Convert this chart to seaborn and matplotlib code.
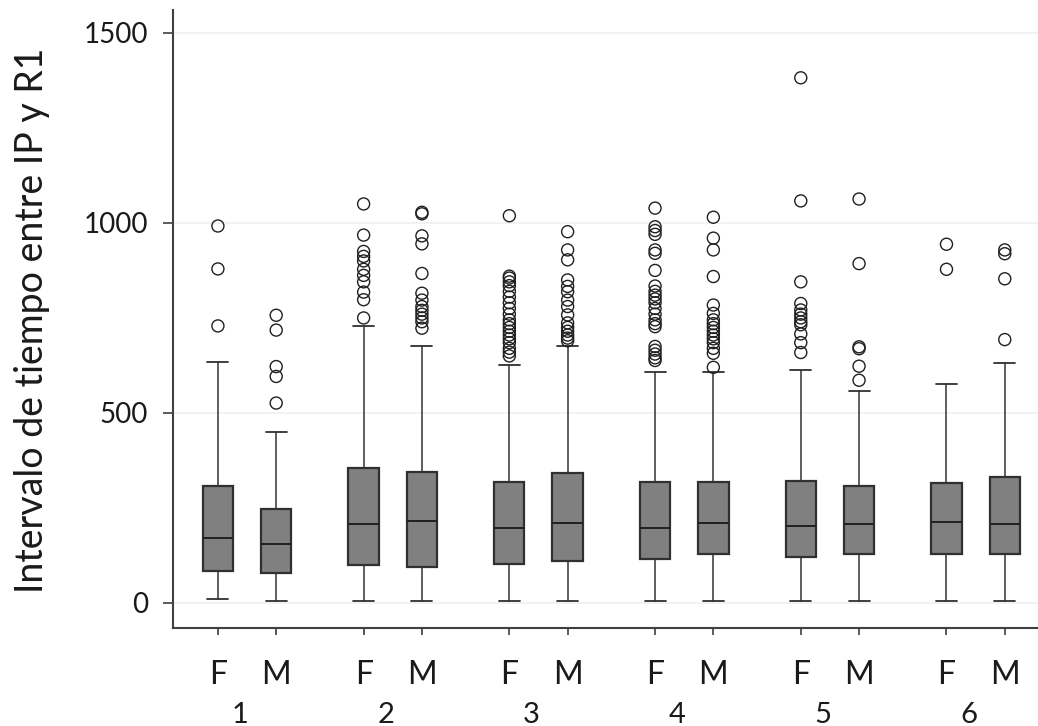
import numpy as np
import pandas as pd
import matplotlib
matplotlib.use("Agg")
import matplotlib.pyplot as plt
import matplotlib.transforms as mtransforms
import seaborn as sns

# Summary statistics per group (1-6) and sex (F, M)
groups = ["1", "2", "3", "4", "5", "6"]
sexes = ["F", "M"]

whisker_low = [9, 6, 6, 6, 4, 4, 4, 4, 4, 4, 4, 4]
q1 = [85, 80, 99, 95, 103, 109, 115, 128, 122, 128, 128, 128]
median = [171, 155, 207, 216, 197, 210, 197, 210, 202, 208, 214, 208]
q3 = [309, 247, 355, 344, 317, 341, 319, 319, 320, 307, 316, 331]
whisker_high = [634, 449, 728, 677, 626, 676, 607, 607, 614, 559, 576, 632]

outliers_1F = [992, 879, 729]
outliers_1M = [757, 718, 622, 596, 526]
outliers_2F = [1050, 968, 925, 912, 900, 878, 862, 845, 818, 798, 750]
outliers_2M = [1028, 1024, 966, 945, 867, 815, 797, 780, 770, 760, 750, 740, 723]
outliers_3F = [1019, 860, 855, 845, 835, 820, 805, 790, 775, 760, 745, 735,
               725, 715, 705, 695, 685, 670, 660, 650]
outliers_3M = [977, 929, 903, 850, 833, 819, 797, 780, 758, 737, 725, 715,
               705, 697, 690]
outliers_4F = [1039, 990, 980, 970, 929, 920, 875, 834, 820, 810, 800, 790,
               775, 760, 745, 735, 727, 675, 665, 655, 645, 638]
outliers_4M = [1015, 960, 929, 859, 784, 762, 745, 735, 725, 715, 705, 695,
               685, 670, 657, 620]
outliers_5F = [1382, 1058, 845, 788, 771, 760, 750, 740, 732, 708, 685, 659]
outliers_5M = [1063, 893, 674, 669, 623, 586]
outliers_6F = [944, 878]
outliers_6M = [929, 919, 853, 693]

outliers = [outliers_1F, outliers_1M, outliers_2F, outliers_2M, outliers_3F,
            outliers_3M, outliers_4F, outliers_4M, outliers_5F, outliers_5M,
            outliers_6F, outliers_6M]

y_label = "Intervalo de tiempo entre IP y R1"

# ---------------------------------------------------------------------------
sns.set_theme(style="white")
plt.rcParams["font.family"] = ["Lato", "DejaVu Sans"]

# box positions: two boxes per group, wider gap between groups
positions = []
for g in range(len(groups)):
    for s in range(len(sexes)):
        positions.append(g * 2.5 + s)

stats = []
for i in range(len(positions)):
    stats.append(dict(whislo=whisker_low[i], q1=q1[i], med=median[i],
                      q3=q3[i], whishi=whisker_high[i], fliers=[]))

fig = plt.figure(figsize=(10.38, 7.26), dpi=100)
ax = fig.add_axes([0.1667, 0.135, 0.8333, 0.851])

ax.bxp(stats, positions=positions, widths=0.52, patch_artist=True,
       showfliers=False,
       boxprops=dict(facecolor="#808080", edgecolor="#303030", linewidth=1.6),
       medianprops=dict(color="#202020", linewidth=1.4),
       whiskerprops=dict(color="#333333", linewidth=1.1),
       capprops=dict(color="#303030", linewidth=1.3),
       capwidths=0.36, zorder=3)

# outliers as open circles
rows = []
for i, vals in enumerate(outliers):
    for v in vals:
        rows.append({"pos": positions[i], "value": v})
df_out = pd.DataFrame(rows)
sns.scatterplot(data=df_out, x="pos", y="value", ax=ax, marker="o", s=75,
                facecolor="none", edgecolor="#202020", linewidth=1.0,
                zorder=4, legend=False)

ax.set_xlim(-0.77, 14.07)
ax.set_ylim(-66, 1560)

ax.set_yticks([0, 500, 1000, 1500])
ax.set_yticklabels(["0", "500", "1000", "1500"])
ax.yaxis.grid(True, color="#edf1f1", linewidth=1.2, zorder=0)
ax.xaxis.grid(False)
ax.set_axisbelow(True)

ax.set_xticks(positions)
ax.set_xticklabels(sexes * len(groups))
ax.set_xlabel("")
ax.set_ylabel(y_label, fontsize=27, color="#1a1a1a")
ax.yaxis.set_label_coords(-0.163, 0.498)
ax.yaxis.label.set_va("center")

ax.tick_params(axis="y", which="major", left=True, length=7, width=1.2,
               color="#404040", labelsize=20, labelcolor="#1a1a1a", pad=11)
ax.tick_params(axis="x", which="major", bottom=True, length=5, width=1.2,
               color="#404040", labelsize=23, labelcolor="#1a1a1a", pad=18)

sns.despine(ax=ax, top=True, right=True)
for side in ["left", "bottom"]:
    ax.spines[side].set_color("#404040")
    ax.spines[side].set_linewidth(1.5)

# group numbers under each F/M pair
trans = mtransforms.blended_transform_factory(ax.transData, ax.transAxes)
for g, name in enumerate(groups):
    ax.text(g * 2.5 + 0.5 - 0.12, -0.1537, name, transform=trans,
            ha="center", va="baseline", fontsize=21, color="#1a1a1a")

fig.savefig("out.png", dpi=100)
